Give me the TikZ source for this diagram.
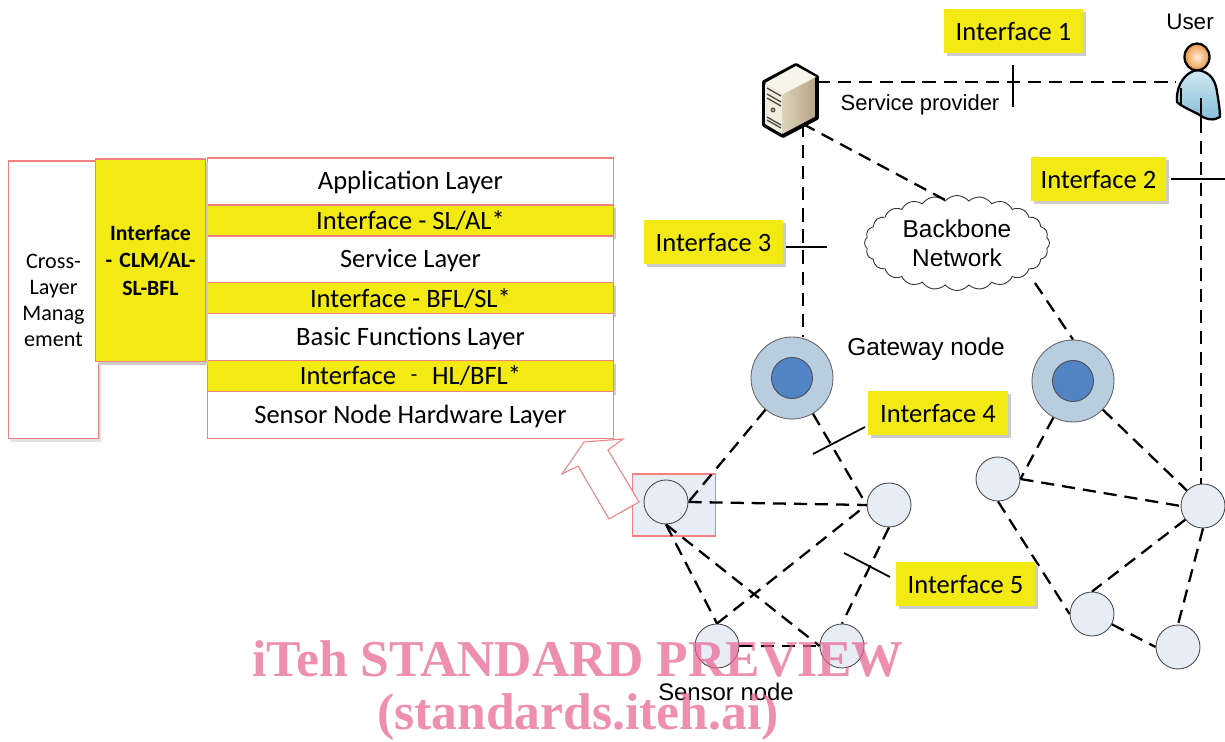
\documentclass[tikz,border=0pt]{standalone}
\usepackage{fontspec}
\setmainfont{Liberation Sans}
\newfontfamily\calib{Carlito}
\newfontfamily\wmark{Liberation Serif}
\usetikzlibrary{positioning,shapes.symbols,shadows}
\definecolor{ifyellow}{HTML}{F3EA14}
\definecolor{redline}{HTML}{F28080}
\definecolor{sensorfill}{HTML}{E6EDF7}
\definecolor{gateouter}{HTML}{B9CDE0}
\definecolor{gateinner}{HTML}{5283C4}
\definecolor{wmarkpink}{HTML}{E8608F}
\definecolor{usertop}{HTML}{CFE8F1}
\definecolor{userbot}{HTML}{84BCDA}
\definecolor{srvlight}{HTML}{F2ECDC}
\definecolor{srvdark}{HTML}{B5A27F}

\begin{document}
\begin{tikzpicture}[x=0.02cm,y=-0.02cm]
  \tikzset{
    layer/.style={draw=redline, fill=white, line width=0.6pt, outer sep=0pt, minimum width=8.12cm, inner sep=0pt, text depth=1pt, font=\calib\fontsize{15.1}{18}\selectfont},
    yellowlayer/.style={layer, fill=ifyellow, drop shadow={shadow xshift=1.5pt, shadow yshift=-1.5pt, fill=black!20, opacity=1}},
    iface/.style={fill=ifyellow, minimum width=2.8cm, minimum height=0.88cm, inner sep=0pt, text depth=0pt, font=\calib\fontsize{15.1}{18}\selectfont, drop shadow={shadow xshift=1.7pt, shadow yshift=-1.7pt, fill=black!20, opacity=1}},
    sensor/.style={draw=black!70, fill=sensorfill, circle, minimum size=0.88cm, inner sep=0pt, line width=0.5pt},
    gateway/.style={draw=black!60, fill=gateouter, circle, minimum size=1.64cm, inner sep=0pt, line width=0.5pt},
    gatecore/.style={draw=black!70, fill=gateinner, circle, minimum size=0.82cm, inner sep=0pt, line width=0.5pt},
    label/.style={inner sep=0pt, font=\fontsize{12.5}{15}\selectfont},
    line/.style={draw, line width=1.3pt, dash pattern=on 7.5pt off 4.5pt},
    tick/.style={draw, line width=1pt},
    wm/.style={inner sep=0pt, text=wmarkpink, text opacity=0.7, font=\wmark\bfseries\fontsize{29.4}{32}\selectfont},
  }
  \useasboundingbox (0,0) rectangle (1225,742);

  % protocol stack
  \node [layer, minimum height=0.94cm, anchor=north west] (app) at (207.5,158) {Application Layer};
  \node [yellowlayer, minimum height=0.62cm, below=0pt of app] (slal) {Interface - SL/AL*};
  \node [layer, minimum height=0.94cm, below=0pt of slal] (svc) {Service Layer};
  \node [yellowlayer, minimum height=0.62cm, below=0pt of svc] (bflsl) {Interface - BFL/SL*};
  \node [layer, minimum height=0.94cm, below=0pt of bflsl] (bfl) {Basic Functions Layer};
  \node [yellowlayer, minimum height=0.62cm, below=0pt of bfl] (hlbfl) {Interface \,\,\raisebox{2pt}{\scalebox{0.8}{-}}\,\, HL/BFL*};
  \node [layer, minimum height=0.94cm, below=0pt of hlbfl] (hw) {Sensor Node Hardware Layer};
  \node [layer, minimum width=1.8cm, minimum height=5.56cm, anchor=north west, align=center, text width=1.8cm, text depth=, font=\calib\fontsize{12.6}{14.8}\selectfont, drop shadow={shadow xshift=1.5pt, shadow yshift=-1.5pt, fill=black!12, opacity=1}] (clm) at (8.5,161) {Cross-\\Layer\\Manag\\ement\\[3.1cm]};
  \node [yellowlayer, minimum width=2.2cm, minimum height=4.06cm, anchor=north west, align=center, text width=2.2cm, text depth=, font=\calib\bfseries\fontsize{12.4}{15.4}\selectfont] (clmif) at (95.5,159) {Interface\\- CLM/AL-\\SL-BFL\\[1.5cm]};

  % sensors on the left
  \node [draw=redline, fill=sensorfill, line width=0.6pt, minimum width=1.67cm, minimum height=1.24cm, inner sep=0pt] (hl) at (674,505) {};
  \node [sensor] (s1) at (666,502) {};
  \node [sensor] (s2) at (889,505) {};
  \node [sensor] (s3) at (717,646) {};
  \node [sensor] (s4) at (842,646) {};
  % sensors on the right
  \node [sensor] (s5) at (998,479) {};
  \node [sensor] (s6) at (1203,506) {};
  \node [sensor] (s7) at (1092,614) {};
  \node [sensor] (s8) at (1178,647) {};
  % gateways
  \node [gateway] (gw1) at (792,378) {};
  \node [gatecore] (gc1) at (792,378) {};
  \node [gateway] (gw2) at (1073,381) {};
  \node [gatecore] (gc2) at (1073,381) {};

  \node [cloud, draw=black!80, fill=white, line width=0.5pt, cloud puffs=24, cloud puff arc=100, aspect=1.9, minimum width=3.7cm, minimum height=1.9cm, inner sep=0pt, align=center, font=\fontsize{13.9}{16.6}\selectfont] (bb) at (957,243) {Backbone\\Network};

  % block arrow to the stack
  \draw [draw=redline, fill=white, line width=0.6pt] (609,519) -- (639,502) -- (608,450) -- (623,439) -- (584,442) -- (562,474) -- (578,466) -- cycle;

  \node [label, font=\fontsize{12.8}{15}\selectfont] (usr) at (1190,22) {User};
  \node [label] (sp) at (920,105) {Service provider};
  \node [label, font=\fontsize{13.9}{16}\selectfont] (gwn) at (926,349) {Gateway node};
  \node [label, font=\fontsize{13.6}{16}\selectfont] (sn) at (726,692) {Sensor node};

  \coordinate (srvE) at (817,82);
  \coordinate (srvS) at (803,124);
  \coordinate (usrW) at (1176,82);
  \coordinate (usrS) at (1201,120);
  \coordinate (bbN) at (947,201);
  \coordinate (bbS) at (1035,283);

  \path [line] (srvE)--(usrW);
  \path [line] (srvS)--(gw1.north -| srvS);
  \path [line] (srvS)--(bbN);
  \path [line] (usrS)--(usrS |- s6.north);
  \path [line] (bbS)--(gw2.north);
  \path [line] (gw1)--(s1.east);
  \path [line] (gw1)--(s2.west);
  \path [line] (s1.east)--(s2.west);
  \path [line] (s3.north)--(s2.west);
  \path [line] (s2.south)--(s4.north);
  \path [line] (s1.south)--(s3.north);
  \path [line] (s1.south)--(s4.west);
  \path [line] (s3.east)--(s4.west);
  \path [line] (gw2)--(s5.east);
  \path [line] (gw2)--(s6);
  \path [line] (s5.east)--(s6.west);
  \path [line] (s5.south)--(s7.west);
  \path [line] (s6)--(s7.north);
  \path [line] (s6.south)--(s8.north);
  \path [line] (s7)--(s8.west);

  % interface labels
  \node [iface] (i1) at (1013.5,31) {Interface 1};
  \node [iface, minimum width=2.7cm] (i2) at (1098.5,179) {Interface 2};
  \node [iface] (i3) at (713.5,242) {Interface 3};
  \node [iface] (i4) at (938,413.5) {Interface 4};
  \node [iface] (i5) at (965.5,584) {Interface 5};

  \coordinate (t1a) at (1013,65);
  \coordinate (t1b) at (1013,107);
  \coordinate (t2a) at (1171,179);
  \coordinate (t2b) at (1225,179);
  \coordinate (t3a) at (786,247);
  \coordinate (t3b) at (827,247);
  \coordinate (t4a) at (865,427);
  \coordinate (t4b) at (813,454);
  \coordinate (t5a) at (890,577);
  \coordinate (t5b) at (844,553);
  \path [tick] (t1a)--(t1b);
  \path [tick] (t2a)--(t2b);
  \path [tick] (t3a)--(t3b);
  \path [tick] (t4a)--(t4b);
  \path [tick] (t5a)--(t5b);

  % server
  \draw [line width=2.2pt, line join=round, left color=srvlight, right color=srvdark] (764,82) -- (796,65) -- (817,77) -- (817,118) -- (783,136) -- (764,125) -- cycle;
  \fill [srvlight!60!white] (765,83) -- (796,66) -- (816,77) -- (783,94) -- cycle;
  \fill [srvlight] (765,84) -- (782,94) -- (782,134) -- (765,124) -- cycle;
  \draw [line width=0.7pt, black!75] (767,88) -- (781,96) (767,94) -- (781,102) (767,98) -- (781,106);
  \draw [line width=0.7pt, black!75] (767,117) -- (781,125) (767,120) -- (781,128);
  \draw [line width=0.5pt, black!70, fill=black!40] (773,110) circle [radius=2];

  % user
  \draw [line width=1.3pt, top color=usertop, bottom color=userbot, line join=round] (1197,70) .. controls (1205,71) and (1215,75) .. (1217,92) .. controls (1219,103) and (1220,112) .. (1220,117) .. controls (1214,121) and (1206,120) .. (1198,114) .. controls (1190,110) and (1181,106) .. (1177,102) .. controls (1176,92) and (1180,74) .. (1197,70) -- cycle;
  \draw [line width=0.6pt] (1201,98) -- (1201,120) (1181,88) -- (1181,105);
  \draw [line width=1.3pt, inner color=orange!15, outer color=orange!65!brown!80] (1197,57) ellipse [x radius=12.5, y radius=13.5];

  % watermark
  \node [wm] (wm1) at (578,659) {iTeh STANDARD PREVIEW};
  \node [wm] (wm2) at (578,717) {(standards.iteh.ai)};
\end{tikzpicture}
\end{document}
